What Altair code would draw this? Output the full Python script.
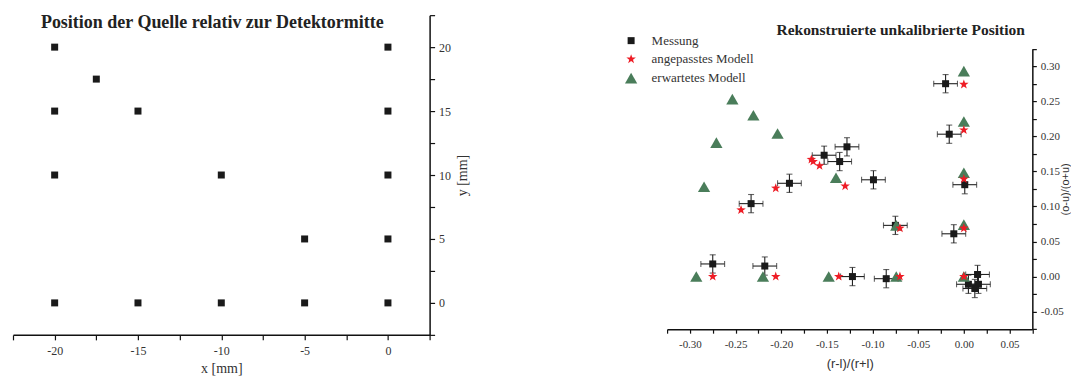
import altair as alt
import pandas as pd

# ---------------- data: left panel (source positions, mm) ----------------
src_x = [-20, 0, -17.5, -20, -15, 0, -20, -10, 0, -5, 0, -20, -15, -10, -5, 0]
src_y = [20, 20, 17.5, 15, 15, 15, 10, 10, 10, 5, 5, 0, 0, 0, 0, 0]

# ---------------- data: right panel ----------------
meas_x = [-0.020, -0.016, -0.153, -0.128, -0.136, -0.191, -0.099, 0.001, -0.233,
          -0.075, -0.011, -0.275, -0.218, -0.122, -0.085, 0.015, 0.005, 0.016, 0.012]
meas_y = [0.275, 0.203, 0.173, 0.185, 0.164, 0.133, 0.138, 0.131, 0.104,
          0.073, 0.061, 0.018, 0.015, 0.000, -0.003, 0.003, -0.011, -0.011, -0.017]
meas_ex = [0.013] * 19
meas_ey = [0.013] * 19

fit_x = [0.000, 0.000, -0.167, -0.165, -0.158, -0.130, -0.206, 0.000, -0.244,
         -0.070, 0.000, -0.275, -0.206, -0.137, -0.070, 0.000]
fit_y = [0.274, 0.209, 0.167, 0.164, 0.158, 0.129, 0.126, 0.139, 0.095,
         0.069, 0.069, 0.000, 0.000, 0.000, 0.000, 0.000]

exp_x = [0.000, -0.2535, -0.2305, -0.271, -0.204, 0.000, -0.140, -0.2845, 0.000,
         -0.074, 0.000, -0.293, -0.220, -0.148, -0.074, 0.000]
exp_y = [0.293, 0.253, 0.230, 0.191, 0.204, 0.221, 0.141, 0.128, 0.148,
         0.073, 0.074, 0.000, 0.000, 0.000, 0.000, 0.000]

series_names = ["Messung", "angepasstes Modell", "erwartetes Modell"]

left_x_ticks = [-22.5, -20, -17.5, -15, -12.5, -10, -7.5, -5, -2.5, 0, 2.5]
left_y_ticks = [-2.5, 0, 2.5, 5, 7.5, 10, 12.5, 15, 17.5, 20, 22.5]
right_x_ticks = [-0.325, -0.3, -0.275, -0.25, -0.225, -0.2, -0.175, -0.15, -0.125,
                 -0.1, -0.075, -0.05, -0.025, 0.0, 0.025, 0.05, 0.075]
right_y_ticks = [-0.075, -0.05, -0.025, 0.0, 0.025, 0.05, 0.075, 0.1, 0.125,
                 0.15, 0.175, 0.2, 0.225, 0.25, 0.275, 0.3, 0.325]

SERIF = "Liberation Serif"
SANS = "Liberation Sans"
STAR = ("M0,-1L0.235,-0.324L0.951,-0.309L0.380,0.124L0.588,0.809L0,0.4"
        "L-0.588,0.809L-0.380,0.124L-0.951,-0.309L-0.235,-0.324Z")

common_axis = dict(grid=False, domainColor="#111", domainWidth=1.5,
                   tickColor="#111", tickWidth=1.2, labelFont=SERIF,
                   labelColor="#333", titleColor="#333", titleFontWeight="normal")

# ---------------- left chart ----------------
left_df = pd.DataFrame({"x": src_x, "y": src_y})
left_lab = "datum.value % 5 === 0 ? replace(format(datum.value, 'd'), '\u2212', '-') : ''"

left = alt.Chart(left_df).mark_square(size=49, color="#1a1a1a", opacity=1).encode(
    x=alt.X("x:Q", scale=alt.Scale(domain=[-22.5, 2.5], nice=False, zero=False),
            axis=alt.Axis(values=left_x_ticks, labelExpr=left_lab, tickSize=5,
                          labelPadding=6, labelFontSize=12, title="x [mm]",
                          titleFont=SERIF, titleFontSize=14, titlePadding=5,
                          **common_axis)),
    y=alt.Y("y:Q", scale=alt.Scale(domain=[-2.5, 22.5], nice=False, zero=False),
            axis=alt.Axis(orient="right", values=left_y_ticks, labelExpr=left_lab,
                          tickSize=5, labelPadding=4, labelFontSize=12,
                          labelAlign="left", title="y [mm]", titleFont=SERIF,
                          titleFontSize=14, titleAngle=-90, titleBaseline="top",
                          titlePadding=5, **common_axis)),
).properties(
    width=417, height=320,
    title=alt.TitleParams(text="Position der Quelle relativ zur Detektormitte",
                          font=SERIF, fontSize=18, fontWeight="bold", color="#222",
                          anchor="middle", frame="group", offset=-17, dx=-9),
)

# ---------------- right chart ----------------
meas_df = pd.DataFrame({"x": meas_x, "y": meas_y, "ex": meas_ex, "ey": meas_ey})
pts_df = pd.concat([
    pd.DataFrame({"x": meas_x, "y": meas_y, "s": series_names[0]}),
    pd.DataFrame({"x": exp_x, "y": exp_y, "s": series_names[2]}),
    pd.DataFrame({"x": fit_x, "y": fit_y, "s": series_names[1]}),
], ignore_index=True)

right_lab = ("abs(round(datum.value * 1000)) % 50 === 0 ? "
             "replace(format(datum.value, '.2f'), '\u2212', '-') : ''")

rx_scale = alt.Scale(domain=[-0.325, 0.075], nice=False, zero=False)
ry_scale = alt.Scale(domain=[-0.075, 0.325], nice=False, zero=False, range=[314.3, 33.5])
rx_axis = alt.Axis(values=right_x_ticks, labelExpr=right_lab, tickSize=4,
                   labelPadding=5, labelFontSize=11, title="(r-l)/(r+l)",
                   titleFont=SANS, titleFontSize=13, titlePadding=8, **common_axis)
ry_axis = alt.Axis(orient="right", values=right_y_ticks, labelExpr=right_lab,
                   tickSize=4, labelPadding=4, labelFontSize=11, labelAlign="left",
                   title="(o-u)/(o+u)", titleFont=SANS, titleFontSize=11,
                   titleAngle=-90, titleBaseline="top", titlePadding=-4,
                   **common_axis)


def RX(field="x"):
    return alt.X(f"{field}:Q", scale=rx_scale, axis=rx_axis)


def RY(field="y"):
    return alt.Y(f"{field}:Q", scale=ry_scale, axis=ry_axis)


err_x = alt.Chart(meas_df).mark_errorbar(
    ticks={"size": 6, "color": "#222"}, color="#222", thickness=1.1
).encode(x=RX(), xError="ex:Q", y=RY())

err_y = alt.Chart(meas_df).mark_errorbar(
    ticks={"size": 6, "color": "#222"}, color="#222", thickness=1.1
).encode(y=RY(), yError="ey:Q", x=RX())


def make_legend():
    return alt.Legend(orient="none", legendX=-43, legendY=19, title=None,
                      labelFont=SERIF, labelFontSize=13, labelColor="#333",
                      labelOffset=13.5, rowPadding=4.5, padding=0)


points = alt.Chart(pts_df).mark_point(filled=True, opacity=1).encode(
    x=RX(), y=RY(),
    color=alt.Color("s:N", scale=alt.Scale(domain=series_names,
                                           range=["#1a1a1a", "#ee1c25", "#4a7d5a"]),
                    legend=make_legend()),
    shape=alt.Shape("s:N", scale=alt.Scale(domain=series_names,
                                           range=["square", STAR, "triangle-up"]),
                    legend=make_legend()),
    size=alt.Size("s:N", scale=alt.Scale(domain=series_names, range=[49, 150, 60]),
                  legend=make_legend()),
)

right = alt.layer(err_x, err_y, points).properties(
    width=365.6, height=314.3,
    title=alt.TitleParams(text="Rekonstruierte unkalibrierte Position",
                          font=SERIF, fontSize=15.5, fontWeight="bold", color="#222",
                          anchor="middle", frame="group", offset=-23, dx=51),
)

chart = alt.hconcat(left, right, spacing=237.7, bounds="flush").resolve_scale(
    color="independent", shape="independent", size="independent"
).properties(
    padding={"left": 4, "top": 5, "right": 0, "bottom": 0}
).configure_view(stroke=None)

chart.save("out.html", embed_options={"renderer": "svg", "actions": False})
